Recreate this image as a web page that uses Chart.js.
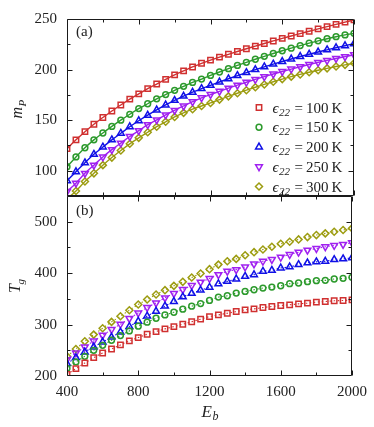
<!DOCTYPE html>
<html><head><meta charset="utf-8">
<script src="https://cdn.jsdelivr.net/npm/chart.js@4.4.1/dist/chart.umd.min.js"></script>
<style>
html,body{margin:0;padding:0;background:#fff;}
#wrap{position:relative;width:374px;height:427px;overflow:hidden;}
canvas{position:absolute;left:0;top:0;}
</style></head><body>
<div id="wrap"><canvas id="ca" width="374" height="427"></canvas><canvas id="cb" width="374" height="427"></canvas></div>
<script>
// ---------- data ----------
const Eb = [400,450,500,550,600,650,700,750,800,850,900,950,1000,1050,1100,1150,1200,1250,1300,1350,1400,1450,1500,1550,1600,1650,1700,1750,1800,1850,1900,1950,2000];
const seriesNames = ['100','150','200','250','300'];

const mP100 = [121.8,130.5,138.6,146.0,152.6,159.0,165.0,170.8,176.0,181.2,185.7,190.3,194.8,198.7,202.6,206.2,209.4,212.3,215.1,217.9,220.6,223.2,225.8,228.3,230.8,233.2,235.6,237.9,240.2,242.5,244.7,246.9,249.1];
const mP150 = [103.9,113.6,122.7,130.5,137.3,143.8,150.0,155.8,161.4,166.2,171.1,175.3,179.5,183.4,187.3,190.6,194.2,197.6,200.9,204.1,207.2,210.2,213.1,215.9,218.6,221.2,223.7,226.1,228.4,230.5,232.5,234.3,235.8];
const mP200 = [90.0,99.0,107.8,116.2,123.4,130.5,137.0,143.5,149.4,154.9,160.1,165.0,169.5,173.7,177.6,181.2,184.4,187.7,190.9,194.0,197.0,199.9,202.7,205.4,208.0,210.5,212.9,215.2,217.4,219.5,221.6,223.6,225.6];
const mP250 = [79.5,87.7,97.4,105.5,113.6,120.8,127.3,133.8,139.6,145.5,150.3,155.2,159.7,164.0,168.2,172.1,175.3,178.5,181.6,184.6,187.5,190.3,193.0,195.6,198.1,200.5,202.8,205.0,207.1,209.1,211.0,212.8,214.6];
const mP300 = [72.0,80.0,89.3,97.4,105.5,113.0,120.0,126.6,132.5,138.0,143.5,148.4,153.2,157.2,160.8,164.0,167.0,170.3,173.5,176.6,179.6,182.5,185.3,188.0,190.6,193.0,195.2,197.3,199.3,201.2,203.0,204.7,206.3];

const Tg100 = [203.2,214.3,225.3,235.7,244.8,252.6,260.4,268.2,274.7,281.2,286.4,291.6,296.1,300.7,305.5,310.5,315.5,318.8,322.0,325.3,328.6,330.5,333.1,335.1,337.0,338.4,340.3,341.6,343.6,344.9,346.2,346.8,348.1];
const Tg150 = [215.0,227.3,238.3,250.0,259.7,269.5,278.6,287.7,296.8,304.6,312.3,318.8,324.0,329.9,335.7,340.9,347.0,353.4,356.0,361.2,364.4,367.7,371.0,372.9,375.5,379.5,380.8,383.4,385.3,386.0,388.6,389.9,391.8];
const Tg200 = [224.0,235.7,246.8,256.5,266.2,275.5,285.5,296.0,306.5,316.5,326.0,336.0,345.0,353.9,360.8,366.9,372.5,379.5,384.0,388.6,393.8,397.0,403.6,405.5,410.1,412.1,416.6,419.9,421.9,423.2,426.4,427.7,429.7];
const Tg250 = [231.8,244.8,256.5,268.2,279.2,290.3,300.7,311.7,322.7,333.1,342.2,352.0,360.4,368.2,376.0,382.5,389.5,397.0,403.6,406.8,412.1,417.9,423.2,426.4,431.0,436.2,440.8,444.7,447.9,451.2,453.8,455.8,459.0];
const Tg300 = [238.3,252.6,267.5,280.5,292.9,305.2,316.2,327.9,339.0,348.7,358.5,366.9,375.3,383.1,391.6,399.4,407.7,416.6,423.2,427.7,434.9,440.8,446.0,451.2,457.1,461.0,465.6,470.1,474.0,477.3,480.6,483.8,487.1];

const xTickLabels = [400,800,1200,1600,2000];
const xTickMarks = [400,600,800,1000,1200,1400,1600,1800,2000];
const yTicksA = [100,150,200,250];
const yMarksA = [100,125,150,175,200,225];
const yTicksB = [200,300,400,500];
const yMarksB = [250,300,350,400,450,500];

// ---------- styles ----------
const SERIF = "'Liberation Serif','DejaVu Serif',serif";
const colors = ['#d03030','#2c9a2c','#1010e6','#a020f0','#9c9c10'];
const styles = [
  {pointStyle:'rect', radius:3.8, rotation:0},
  {pointStyle:'circle', radius:2.9, rotation:0},
  {pointStyle:'triangle', radius:3.9, rotation:0},
  {pointStyle:'triangle', radius:3.9, rotation:180},
  {pointStyle:'rectRot', radius:3.5, rotation:0}
];

function pts(arr){ return Eb.map((e,i)=>({x:e,y:arr[i]})); }

function makeDatasets(arrs, dashed){
  return arrs.map((arr,i)=>({
    data: pts(arr),
    borderColor: colors[i],
    borderWidth: dashed ? 1.1 : 1.4,
    borderDash: dashed ? [1.5,2.5] : [],
    pointStyle: styles[i].pointStyle,
    pointRadius: styles[i].radius,
    pointRotation: styles[i].rotation,
    pointBorderWidth: 1.5,
    pointBorderColor: colors[i],
    pointBackgroundColor: 'rgba(0,0,0,0)',
    cubicInterpolationMode: 'monotone',
    fill: false
  }));
}

const framePlugin = {
  id: 'frame',
  afterDatasetsDraw(chart, args, o){
    const {ctx, chartArea:a} = chart;
    const xs = chart.scales.x, ys = chart.scales.y;
    ctx.save();
    ctx.strokeStyle = '#1a1a1a'; ctx.lineWidth = 1;
    const L = Math.round(a.left)+0.5, R = Math.round(a.right)-0.5;
    const T = Math.round(a.top)+0.5, B = Math.round(a.bottom)-0.5;
    ctx.beginPath(); ctx.rect(L, T, R-L, B-T); ctx.stroke();
    ctx.beginPath();
    o.xMarks.forEach(v=>{
      const px = Math.round(xs.getPixelForValue(v))+0.5;
      const len = o.xMajor.includes(v) ? 5 : 3;
      ctx.moveTo(px,B); ctx.lineTo(px,B-len);
      ctx.moveTo(px,T); ctx.lineTo(px,T+len);
    });
    o.yMarks.forEach(v=>{
      const py = Math.round(ys.getPixelForValue(v))+0.5;
      const len = o.yMajor.includes(v) ? 5 : 3;
      ctx.moveTo(L,py); ctx.lineTo(L+len,py);
      ctx.moveTo(R,py); ctx.lineTo(R-len,py);
    });
    ctx.stroke();
    ctx.restore();
  }
};

function drawSub(ctx, x, y, main, sub, mainSize, subSize, dx, dy){
  ctx.font = 'italic ' + mainSize + 'px ' + SERIF;
  ctx.fillText(main, x, y);
  const w = ctx.measureText(main).width;
  ctx.font = 'italic ' + subSize + 'px ' + SERIF;
  ctx.fillText(sub, x + w + dx, y + dy);
}

const textPlugin = {
  id: 'texts',
  afterDraw(chart){
    const ctx = chart.ctx;
    ctx.save();
    ctx.fillStyle = '#222';
    ctx.textAlign = 'left';
    ctx.textBaseline = 'alphabetic';
    // panel labels
    ctx.font = '15px ' + SERIF;
    ctx.fillText('(a)', 76, 36);
    ctx.fillText('(b)', 76, 215);
    // x title
    drawSub(ctx, 201.5, 416.5, 'E', 'b', 17, 12, 0.5, 3);
    // y titles (rotated)
    ctx.save(); ctx.translate(21.5, 118.5); ctx.rotate(-Math.PI/2);
    drawSub(ctx, 0, 0, 'm', 'P', 16, 11, 0.5, 4);
    ctx.restore();
    ctx.save(); ctx.translate(20, 293); ctx.rotate(-Math.PI/2);
    drawSub(ctx, 0, 0, 'T', 'g', 16, 11, -0.5, 4);
    ctx.restore();
    // legend
    const rows = [107.5,127.25,147,166.75,186.5];
    seriesNames.forEach((nm,i)=>{
      const y = rows[i];
      ctx.save();
      ctx.strokeStyle = colors[i]; ctx.lineWidth = 1.5;
      ctx.fillStyle = 'rgba(0,0,0,0)';
      Chart.helpers.drawPoint(ctx, {pointStyle:styles[i].pointStyle, radius:styles[i].radius, rotation:styles[i].rotation, borderWidth:1.5}, 259, y);
      ctx.restore();
      const bl = y + 5;
      ctx.fillStyle = '#222';
      drawSub(ctx, 272.5, bl, '\u03F5', '22', 15, 11, 0.5, 3);
      ctx.font = '15px ' + SERIF;
      ctx.fillText('=', 294.5, bl);
      ctx.fillText(nm, 306, bl);
      ctx.fillText('K', 331.5, bl);
    });
    ctx.restore();
  }
};

const tickFont = {family: SERIF, size: 15};
const plainLabel = v => String(v);

const chartA = new Chart(document.getElementById('ca'), {
  type: 'line',
  data: { datasets: makeDatasets([mP100,mP150,mP200,mP250,mP300], false) },
  options: {
    responsive: false, animation: false, devicePixelRatio: 1,
    layout: { padding: {left:0, right:20, top:17, bottom:231} },
    plugins: { legend:{display:false}, tooltip:{enabled:false},
      frame: {xMarks:xTickMarks, xMajor:xTickLabels, yMarks:yMarksA, yMajor:yTicksA} },
    scales: {
      x: { type:'linear', min:400, max:2000, display:false },
      y: { type:'linear', min:75, max:250,
        afterFit: s=>{ s.width = 67; },
        afterBuildTicks: s=>{ s.ticks = yTicksA.map(v=>({value:v})); },
        grid:{display:false, drawTicks:false}, border:{display:false},
        ticks:{padding:10, font:tickFont, color:'#222', callback: plainLabel} }
    }
  },
  plugins: [framePlugin]
});

const chartB = new Chart(document.getElementById('cb'), {
  type: 'line',
  data: { datasets: makeDatasets([Tg100,Tg150,Tg200,Tg250,Tg300], true) },
  options: {
    responsive: false, animation: false, devicePixelRatio: 1,
    layout: { padding: {left:0, right:20, top:196, bottom:0} },
    plugins: { legend:{display:false}, tooltip:{enabled:false},
      frame: {xMarks:xTickMarks, xMajor:xTickLabels, yMarks:yMarksB, yMajor:yTicksB} },
    scales: {
      x: { type:'linear', min:400, max:2000,
        afterFit: s=>{ s.height = 51; },
        afterBuildTicks: s=>{ s.ticks = xTickLabels.map(v=>({value:v})); },
        grid:{display:false, drawTicks:false}, border:{display:false},
        ticks:{padding:7, font:tickFont, color:'#222', maxRotation:0, autoSkip:false, callback: plainLabel} },
      y: { type:'linear', min:200, max:550,
        afterFit: s=>{ s.width = 67; },
        afterBuildTicks: s=>{ s.ticks = yTicksB.map(v=>({value:v})); },
        grid:{display:false, drawTicks:false}, border:{display:false},
        ticks:{padding:10, font:tickFont, color:'#222', callback: plainLabel} }
    }
  },
  plugins: [framePlugin, textPlugin]
});
</script>
</body></html>
